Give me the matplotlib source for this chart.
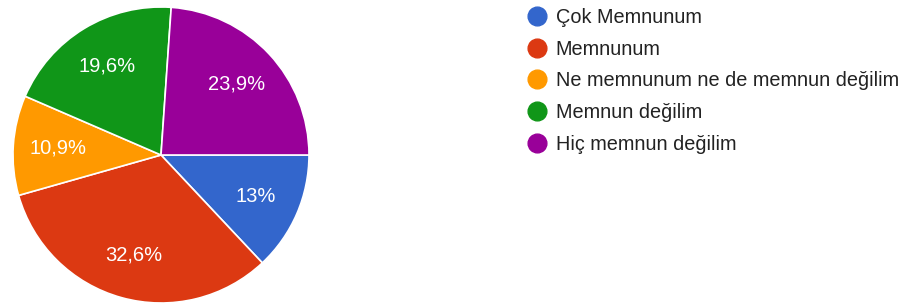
import matplotlib
matplotlib.use("Agg")
import matplotlib.pyplot as plt
from matplotlib.lines import Line2D

categories = ["Çok Memnunum", "Memnunum", "Ne memnunum ne de memnun değilim",
              "Memnun değilim", "Hiç memnun değilim"]
values = [13.0, 32.6, 10.9, 19.6, 23.9]
colors = ["#3366cc", "#dc3912", "#ff9900", "#109618", "#990099"]

plt.rcParams['font.family'] = ['Liberation Sans', 'DejaVu Sans']

W, H = 904, 304
fig = plt.figure(figsize=(W / 100, H / 100), dpi=100)
cx, cy, R = 161, 155, 148
ax = fig.add_axes([(cx - R) / W, (H - cy - R) / H, 2 * R / W, 2 * R / H])

def fmt(p):
    s = f"{p:.1f}"
    if s.endswith(".0"):
        s = s[:-2]
    return s.replace(".", ",") + "%"

wedges, texts, autotexts = ax.pie(
    values, colors=colors, startangle=0, counterclock=False,
    autopct=fmt, pctdistance=0.7, radius=1,
    wedgeprops=dict(edgecolor="white", linewidth=1.2),
    textprops=dict(color="white", fontsize=14.5))
ax.set_xlim(-1, 1)
ax.set_ylim(-1, 1)
ax.set_aspect("equal")
ax.axis("off")

handles = [Line2D([], [], marker="o", linestyle="none", markersize=13.5,
                  markerfacecolor=c, markeredgecolor=c) for c in colors]
fig.legend(handles, categories, loc="upper left",
           bbox_to_anchor=(524 / W, 1 - 8 / H), frameon=False,
           fontsize=14.3, labelspacing=0.64, handletextpad=0.3,
           borderpad=0, borderaxespad=0, handlelength=1.3,
           labelcolor="#222222")

fig.savefig("out.png", dpi=100)
